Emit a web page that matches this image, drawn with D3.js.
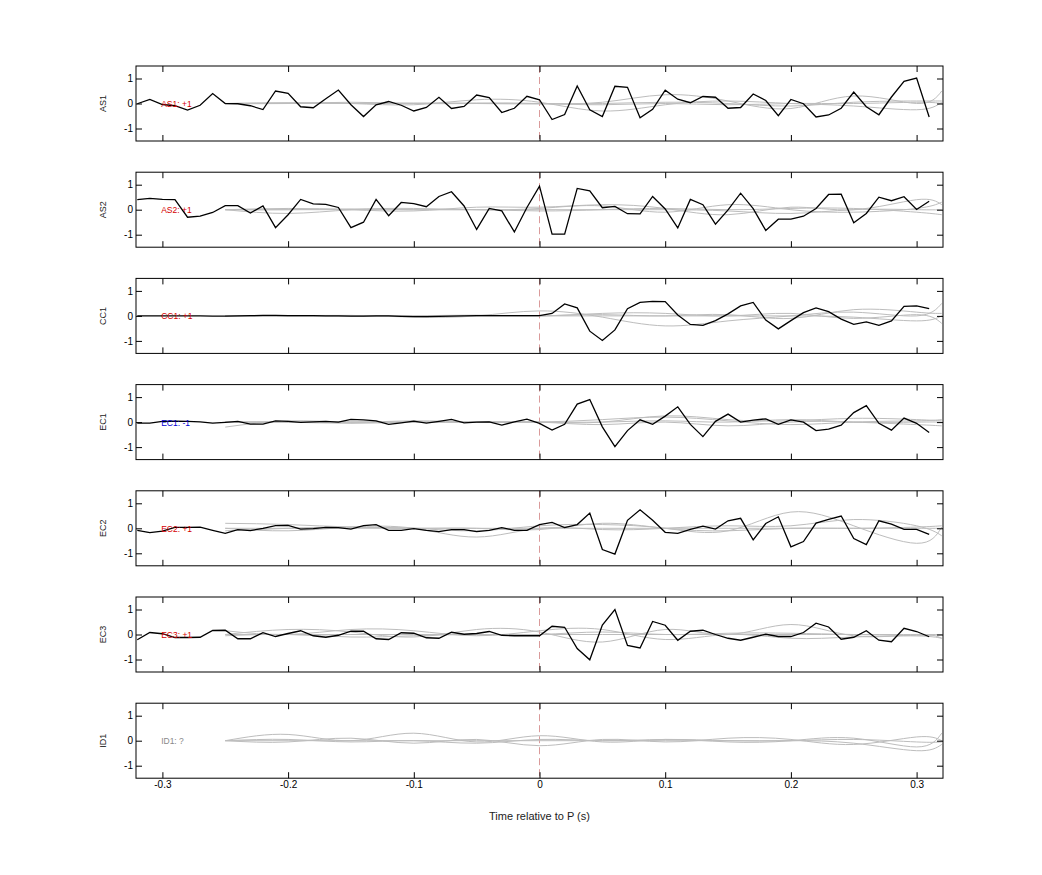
<!DOCTYPE html>
<html>
<head>
<meta charset="utf-8">
<script src="https://cdn.jsdelivr.net/npm/d3@7"></script>
<style>
  body { margin: 0; background: #fff; }
  text { font-family: "Liberation Sans", Arial, sans-serif; }
</style>
</head>
<body>
<script>
'use strict';

// station names and polarity labels
var stations = ['AS1', 'AS2', 'CC1', 'EC1', 'EC2', 'EC3', 'ID1'];
var labels   = ['AS1: +1', 'AS2: +1', 'CC1: +1', 'EC1: -1', 'EC2: +1', 'EC3: +1', 'ID1: ?'];
var labelColors = ['#d40000', '#d40000', '#d40000', '#0000d4', '#d40000', '#d40000', '#888'];

// sample times of black traces: -0.32 .. 0.31 s, step 0.01
var startT = -0.32, stepT = 0.01;

var as1 = [-0.01,0.16,-0.04,-0.09,-0.26,-0.07,0.40,0,-0.01,-0.09,-0.24,0.50,0.41,-0.13,-0.17,0.19,
  0.54,-0.05,-0.52,-0.05,0.08,-0.07,-0.30,-0.16,0.25,-0.20,-0.12,0.34,0.24,-0.36,-0.19,0.29,
  0.15,-0.64,-0.44,0.70,-0.25,-0.52,0.69,0.65,-0.57,-0.23,0.53,0.17,0.03,0.28,0.25,-0.19,
  -0.16,0.38,0.12,-0.49,0.16,-0.01,-0.54,-0.46,-0.19,0.46,-0.13,-0.45,0.26,0.89,1.02,-0.54];
var as2 = [0.40,0.45,0.41,0.40,-0.30,-0.26,-0.11,0.16,0.16,-0.13,0.15,-0.72,-0.20,0.41,0.23,0.21,
  0.09,-0.72,-0.50,0.41,-0.24,0.29,0.24,0.12,0.53,0.72,0.15,-0.79,0.05,-0.05,-0.89,0.09,
  0.94,-0.98,-0.98,0.85,0.75,0.08,0.13,-0.16,-0.17,0.53,0.03,-0.73,0.41,0.20,-0.58,-0.01,
  0.66,0.04,-0.83,-0.38,-0.38,-0.26,0.05,0.61,0.62,-0.52,-0.15,0.50,0.36,0.52,0.01,0.34];
var cc1 = [0,0,0,0,0,0,-0.01,-0.01,0,0.01,0.02,0.02,0.01,0.01,0.01,0,
  0,-0.01,-0.01,0,0,-0.02,-0.03,-0.03,-0.02,-0.01,0,0.01,0.01,0.01,0.01,0.01,
  0.01,0.10,0.48,0.32,-0.61,-0.98,-0.56,0.29,0.54,0.58,0.57,0.04,-0.34,-0.38,-0.19,0.08,
  0.40,0.54,-0.17,-0.52,-0.19,0.13,0.32,0.17,-0.13,-0.34,-0.24,-0.38,-0.20,0.38,0.40,0.29];
var ec1 = [-0.04,-0.04,0.03,0.04,0.03,0.01,-0.04,-0.01,0.03,-0.08,-0.08,0.05,0.03,-0.01,0.01,0.03,
  0,0.11,0.09,0.05,-0.09,-0.03,0.04,-0.04,0.03,0.11,-0.03,0,0.01,-0.12,0.01,0.12,
  -0.05,-0.32,-0.09,0.72,0.90,-0.19,-0.98,-0.34,0.09,-0.09,0.24,0.61,-0.09,-0.58,0.03,0.32,
  0,0.08,0.13,-0.09,0.09,0,-0.34,-0.28,-0.12,0.38,0.66,-0.05,-0.32,0.16,-0.05,-0.42];
var ec2 = [-0.08,-0.17,-0.11,0.04,0.04,0.05,-0.08,-0.20,-0.05,-0.09,0,0.11,0.12,-0.03,-0.01,0.04,
  0.03,-0.03,0.11,0.15,-0.08,-0.08,-0.01,-0.08,-0.13,-0.05,-0.05,-0.13,-0.08,0.03,-0.08,-0.08,
  0.15,0.24,0.03,0.15,0.61,-0.85,-1.03,0.32,0.74,0.32,-0.16,-0.20,-0.04,0.09,-0.03,0.30,
  0.40,-0.46,0.19,0.46,-0.74,-0.53,0.21,0.36,0.49,-0.41,-0.65,0.30,0.17,-0.04,-0.04,-0.24];
var ec3 = [-0.21,0.08,0.03,-0.12,-0.12,-0.11,0.16,0.17,-0.17,-0.17,0.07,-0.08,0.04,0.15,-0.05,-0.11,
  -0.03,0.13,0.13,-0.17,-0.20,0.07,0.05,-0.13,-0.15,0.09,0.01,0.04,0.12,-0.03,-0.05,-0.05,
  -0.05,0.33,0.29,-0.56,-1.01,0.38,1.00,-0.44,-0.54,0.52,0.37,-0.23,0.13,0.17,0,-0.15,
  -0.23,-0.11,0.01,-0.08,-0.08,0.08,0.45,0.30,-0.19,-0.11,0.15,-0.23,-0.29,0.25,0.12,-0.09];
var blackTraces = [as1, as2, cc1, ec1, ec2, ec3, null];

// gray (synthetic) traces, sampled at these times and drawn smooth
var grayT = [-0.25,-0.20,-0.15,-0.10,-0.05,0,0.05,0.10,0.15,0.20,0.25,0.30,0.32];
var grayTraces = [
  [[0,0.02,0,-0.05,0.15,0.05,-0.3,-0.05,0.1,0,-0.1,-0.25,0.05],
   [0,0,0.05,0,0,0,0.05,0.35,0.1,-0.2,0.3,0,0.5],
   [0,0.03,0,0.02,0,-0.02,0,0.05,0,-0.1,0.05,0.1,0.1],
   [0,0,0,0,0.02,0,-0.05,0,-0.05,0,0,0.05,0]],
  [[0,-0.15,0,0.05,0,0.05,0.15,-0.1,0.2,0,-0.1,0.05,0.3],
   [0,0.05,0,-0.05,0.1,0.1,0.2,0.05,-0.2,0.1,0,0.4,0.2],
   [0,0,0.03,0,0,-0.05,0,0.05,0,0.05,0.05,-0.1,-0.2],
   [0,0,0,0,0,0,0,0,-0.05,-0.15,0,0,0]],
  [[0,0,0.02,-0.05,0,0.2,-0.05,-0.4,-0.2,0,0.15,0,0.5],
   [0,0,0,0,0.03,0,0.1,0.1,0,0.1,-0.1,0.05,-0.3],
   [0,-0.02,0,0,0,0,0.05,0,0.05,-0.1,0.25,0.15,0.1],
   [0,0,0,0,0,0,0,0,0,0,-0.05,-0.2,0]],
  [[-0.2,0.05,0,0.05,0,0,0.1,0.2,0.05,-0.1,0,0.05,0.1],
   [0,0,-0.05,0,0,0,0,0.25,0.1,0.05,0.15,0.1,0.05],
   [0,0,0,0,0,0,-0.1,0,-0.15,0,0,-0.1,-0.15],
   [0,0,0,0,0,0,0,0.05,0,0.1,0,0,0]],
  [[0.2,0.15,0.05,0,-0.1,0.1,0.15,0,-0.1,0.65,0.1,-0.6,0.05],
   [0,-0.1,0.05,0,-0.35,0,-0.05,0,0.1,0.1,0.35,0.1,-0.3],
   [0,0,0,0,0,0,0,0,0,0,0,0,0],
   [-0.1,0,0.05,0,0,-0.05,0.2,0,-0.1,0,0,0.05,0.1]],
  [[0,0.2,0.1,-0.1,0.2,0.1,-0.3,0.2,0,0.4,-0.05,0,-0.15],
   [0.15,0,0.2,0.15,-0.05,0.15,0.2,-0.2,0,-0.15,-0.1,-0.05,0],
   [0,0,0,0,0,0,0,0,0,0,0,0,0],
   [-0.05,0,-0.1,-0.05,0,0,0.1,0,0.05,0.05,0,-0.05,-0.15]],
  [[0,0.25,0,0.3,-0.05,0.2,-0.05,0.05,-0.05,0,0.1,-0.25,0.3],
   [0,-0.05,0.1,-0.1,0.05,-0.2,0.05,-0.05,0.1,0.05,-0.15,0.15,0],
   [0,0,0,0,0,0,0,0,0,0,0.05,-0.05,-0.05],
   [0,0.05,-0.05,0,-0.1,0.05,0,0.05,0,0,-0.1,-0.4,-0.15]]
];

var xTicks = [-0.3, -0.2, -0.1, 0, 0.1, 0.2, 0.3];
var yTicks = [-1, 0, 1];

var left = 136, right = 943, panelH = 75, firstTop = 66, panelGap = 106.2;

var svg = d3.select('body').append('svg').attr('width', 1042).attr('height', 875);

var x = d3.scaleLinear().domain([-0.321, 0.321]).range([left, right]);

stations.forEach(function(name, i) {
  var top = firstTop + i * panelGap;
  var y = d3.scaleLinear().domain([-1.5, 1.5]).range([top + panelH, top]);
  var g = svg.append('g');

  // zero dashed line
  g.append('line')
    .attr('x1', x(0)).attr('x2', x(0))
    .attr('y1', top).attr('y2', top + panelH)
    .attr('stroke', '#d08080').attr('stroke-width', 0.8)
    .attr('stroke-dasharray', '7,4');

  var smooth = d3.line()
    .x(function(d, k) { return x(grayT[k]); })
    .y(function(d) { return y(d); })
    .curve(d3.curveNatural);
  g.selectAll('path.gray').data(grayTraces[i]).enter().append('path')
    .attr('class', 'gray')
    .attr('d', smooth)
    .attr('fill', 'none').attr('stroke', '#bdbdbd').attr('stroke-width', 1);

  if (blackTraces[i]) {
    var line = d3.line()
      .x(function(d, k) { return x(startT + k * stepT); })
      .y(function(d) { return y(d); });
    g.append('path').datum(blackTraces[i])
      .attr('d', line)
      .attr('fill', 'none').attr('stroke', '#000').attr('stroke-width', 1.3);
  }

  g.append('text')
    .attr('x', x(-0.301)).attr('y', y(0) + 3.5)
    .attr('font-size', 8.5).attr('fill', labelColors[i])
    .text(labels[i]);

  // axes with inward ticks on all sides
  var bottomAxis = d3.axisBottom(x).tickValues(xTicks).tickSizeInner(-6).tickSizeOuter(0)
    .tickFormat(i === stations.length - 1 ? d3.format('') : function() { return ''; });
  var topAxis = d3.axisTop(x).tickValues(xTicks).tickSizeInner(-6).tickSizeOuter(0)
    .tickFormat(function() { return ''; });
  var leftAxis = d3.axisLeft(y).tickValues(yTicks).tickSizeInner(-6).tickSizeOuter(0)
    .tickFormat(d3.format(''));
  var rightAxis = d3.axisRight(y).tickValues(yTicks).tickSizeInner(-6).tickSizeOuter(0)
    .tickFormat(function() { return ''; });

  [
    g.append('g').attr('transform', 'translate(0,' + (top + panelH) + ')').call(bottomAxis),
    g.append('g').attr('transform', 'translate(0,' + top + ')').call(topAxis),
    g.append('g').attr('transform', 'translate(' + left + ',0)').call(leftAxis),
    g.append('g').attr('transform', 'translate(' + right + ',0)').call(rightAxis)
  ].forEach(function(a) {
    a.select('.domain').remove();
    a.selectAll('line').attr('stroke', '#000');
    a.selectAll('text').attr('font-size', 10).attr('fill', '#000')
      .attr('font-family', '"Liberation Sans", Arial, sans-serif');
  });
  g.selectAll('.tick text').each(function() {
    var t = d3.select(this);
    t.text(t.text().replace('−', '-'));
  });

  g.append('rect')
    .attr('x', left).attr('y', top).attr('width', right - left).attr('height', panelH)
    .attr('fill', 'none').attr('stroke', '#000').attr('stroke-width', 1);

  g.append('text')
    .attr('transform', 'translate(106,' + (top + panelH / 2) + ') rotate(-90)')
    .attr('text-anchor', 'middle').attr('font-size', 9).attr('fill', '#222')
    .text(name);
});

svg.append('text')
  .attr('x', x(0)).attr('y', 820)
  .attr('text-anchor', 'middle').attr('font-size', 11).attr('fill', '#222')
  .text('Time relative to P (s)');
</script>
</body>
</html>
